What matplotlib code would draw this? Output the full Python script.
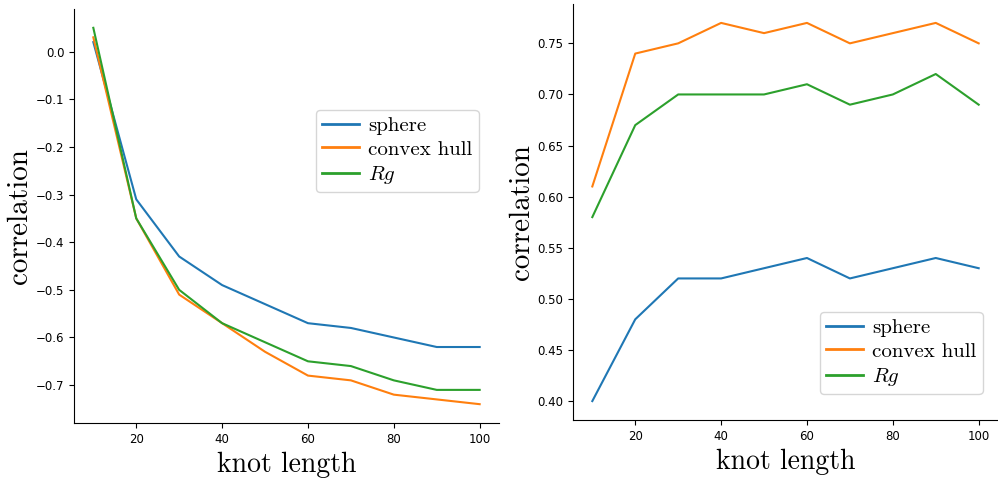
import matplotlib
matplotlib.use('Agg')
import matplotlib.pyplot as plt

#data
knot_length = [10, 20, 30, 40, 50, 60, 70, 80, 90, 100]

#left panel
left_sphere = [0.02, -0.31, -0.43, -0.49, -0.53, -0.57, -0.58, -0.60, -0.62, -0.62]
left_hull = [0.03, -0.35, -0.51, -0.57, -0.63, -0.68, -0.69, -0.72, -0.73, -0.74]
left_rg = [0.05, -0.35, -0.50, -0.57, -0.61, -0.65, -0.66, -0.69, -0.71, -0.71]

#right panel
right_sphere = [0.40, 0.48, 0.52, 0.52, 0.53, 0.54, 0.52, 0.53, 0.54, 0.53]
right_hull = [0.61, 0.74, 0.75, 0.77, 0.76, 0.77, 0.75, 0.76, 0.77, 0.75]
right_rg = [0.58, 0.67, 0.70, 0.70, 0.70, 0.71, 0.69, 0.70, 0.72, 0.69]

labels = ['sphere', 'convex hull', '$Rg$']

plt.rcParams['mathtext.fontset'] = 'cm'
xlabel_font = {'family': 'cmr10', 'size': 20}
ylabel_font = {'family': 'cmr10', 'size': 21}
legend_font = {'family': 'cmr10', 'size': 15}

W, H = 998, 483
fig = plt.figure(figsize=(W / 100, H / 100), dpi=100)

#axes placed in pixels
ax1 = fig.add_axes([74 / W, (H - 423) / H, 425 / W, 414 / H])
ax2 = fig.add_axes([573 / W, (H - 420) / H, 425 / W, 416 / H])

#legend upper-left corners in pixels
panels = [
    (ax1, [left_sphere, left_hull, left_rg], (316, 110)),
    (ax2, [right_sphere, right_hull, right_rg], (820, 312)),
]

for ax, series, corner in panels:
    for vals, lab in zip(series, labels):
        ax.plot(knot_length, vals, label=lab, linewidth=1.5)
    ax.spines['top'].set_visible(False)
    ax.spines['right'].set_visible(False)
    ax.tick_params(labelsize=8.5)
    ax.set_xlabel('knot length', fontdict=xlabel_font)
    ax.set_ylabel('correlation', fontdict=ylabel_font, labelpad=2)
    leg = ax.legend(prop=legend_font, loc='upper left',
                    bbox_to_anchor=(corner[0] / W, 1 - corner[1] / H),
                    bbox_transform=fig.transFigure, borderaxespad=0,
                    handlelength=1.75, handletextpad=0.45, borderpad=0.3,
                    labelspacing=0.25)
    for line in leg.get_lines():
        line.set_linewidth(2.0)

ax1.set_xticks([20, 40, 60, 80, 100])
ax2.set_xticks([20, 40, 60, 80, 100])

fig.savefig('out.png', dpi=100)
